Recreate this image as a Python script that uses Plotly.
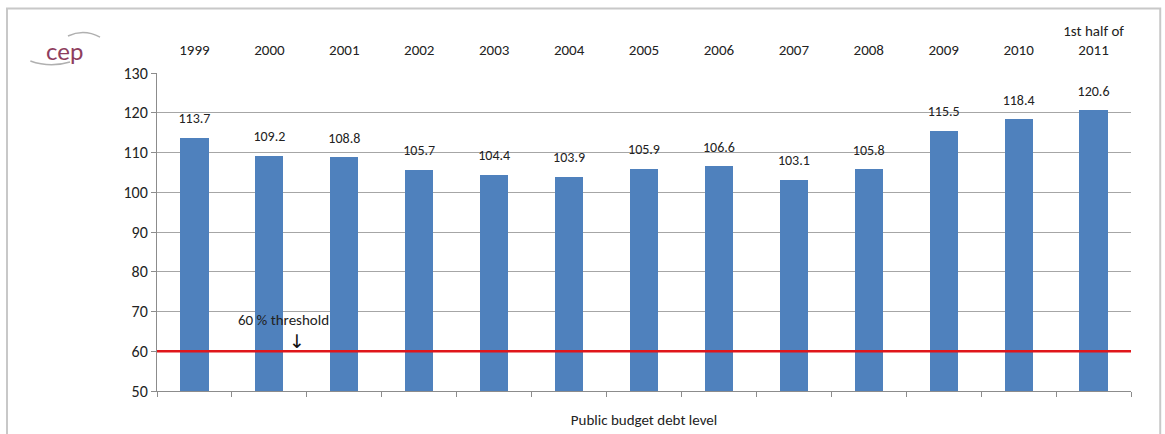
import plotly.graph_objects as go

categories = ["1999", "2000", "2001", "2002", "2003", "2004", "2005", "2006",
              "2007", "2008", "2009", "2010", "1st half of<br>2011"]
debt_level = [113.7, 109.2, 108.8, 105.7, 104.4, 103.9, 105.9, 106.6,
              103.1, 105.8, 115.5, 118.4, 120.6]
threshold = 60
y_ticks = [50, 60, 70, 80, 90, 100, 110, 120, 130]

FONT = "Carlito, Calibri, Lato, 'Open Sans', sans-serif"
TXT = "#222222"
positions = list(range(len(categories)))
n = len(categories)

fig = go.Figure()
fig.add_trace(go.Bar(
    x=positions, y=debt_level, width=0.375,
    marker=dict(color="#4F81BD", line=dict(width=0)),
    showlegend=False, hoverinfo="skip",
))
# data labels (transparent markers give the offset above the bar tops)
fig.add_trace(go.Scatter(
    x=positions, y=debt_level, mode="markers+text",
    marker=dict(size=16, opacity=0),
    text=[f"{v:.1f}" for v in debt_level], textposition="top center",
    textfont=dict(family=FONT, size=14, color=TXT),
    cliponaxis=False, showlegend=False, hoverinfo="skip",
))
# threshold line
fig.add_trace(go.Scatter(
    x=[-0.5, n - 0.5], y=[threshold, threshold], mode="lines",
    line=dict(color="#E0161B", width=2.5), showlegend=False, hoverinfo="skip",
))
# invisible trace for top category axis
fig.add_trace(go.Scatter(
    x=positions, y=[None] * n, xaxis="x2", mode="markers",
    showlegend=False, hoverinfo="skip",
))

fig.update_layout(
    width=1165, height=434,
    margin=dict(l=157, r=34, t=73, b=43),
    paper_bgcolor="white", plot_bgcolor="white",
    font=dict(family=FONT, size=14, color=TXT),
    bargap=0,
    xaxis=dict(
        range=[-0.5, n - 0.5], showgrid=False, zeroline=False,
        tickmode="array", tickvals=[i - 0.5 for i in range(n + 1)],
        ticktext=[""] * (n + 1), ticks="outside", ticklen=5,
        tickcolor="#8c8c8c", showline=True, linecolor="#8c8c8c", linewidth=1,
        title=dict(text="Public budget debt level", standoff=15,
                   font=dict(family=FONT, size=15, color=TXT)),
    ),
    xaxis2=dict(
        overlaying="x", side="top", range=[-0.5, n - 0.5], anchor="y",
        tickmode="array", tickvals=positions, ticktext=categories,
        showgrid=False, zeroline=False, showline=False, ticks="",
        ticklabelstandoff=14,
        tickfont=dict(family=FONT, size=15, color=TXT),
    ),
    yaxis=dict(
        range=[50, 130], tickmode="array", tickvals=y_ticks,
        showgrid=True, gridcolor="#a6a6a6", gridwidth=1,
        ticks="outside", ticklen=5, tickcolor="#8c8c8c",
        showline=True, linecolor="#8c8c8c", linewidth=1, zeroline=False,
        tickfont=dict(family=FONT, size=16, color=TXT),
    ),
    annotations=[
        dict(x=1.195, y=67.9, xref="x", yref="y",
             text="60 % threshold", showarrow=False,
             xanchor="center", yanchor="middle",
             font=dict(family=FONT, size=15, color=TXT)),
        dict(x=1.369, y=62.6, xref="x", yref="y",
             text="↓", showarrow=False,
             xanchor="center", yanchor="middle",
             font=dict(family="DejaVu Sans", size=19, color="#111111")),
        dict(x=-0.0945, y=1.072, xref="paper", yref="paper",
             text="cep", showarrow=False, xanchor="center", yanchor="middle",
             font=dict(family="Lato, sans-serif", size=24, color="#8E3D5E")),
    ],
    shapes=[
        dict(type="rect", xref="paper", yref="paper",
             x0=-0.154, x1=1.03, y0=-0.3, y1=1.2025,
             line=dict(color="#c8c8c8", width=2), layer="below"),
        dict(type="path", xref="paper", yref="paper",
             path="M -0.0914 1.1164 Q -0.075 1.14 -0.0585 1.113",
             line=dict(color="#b0b0b0", width=1.5)),
        dict(type="path", xref="paper", yref="paper",
             path="M -0.130 1.0377 Q -0.11 1.0157 -0.0893 1.0346",
             line=dict(color="#b0b0b0", width=1.5)),
    ],
)

fig.write_html("out.html")
